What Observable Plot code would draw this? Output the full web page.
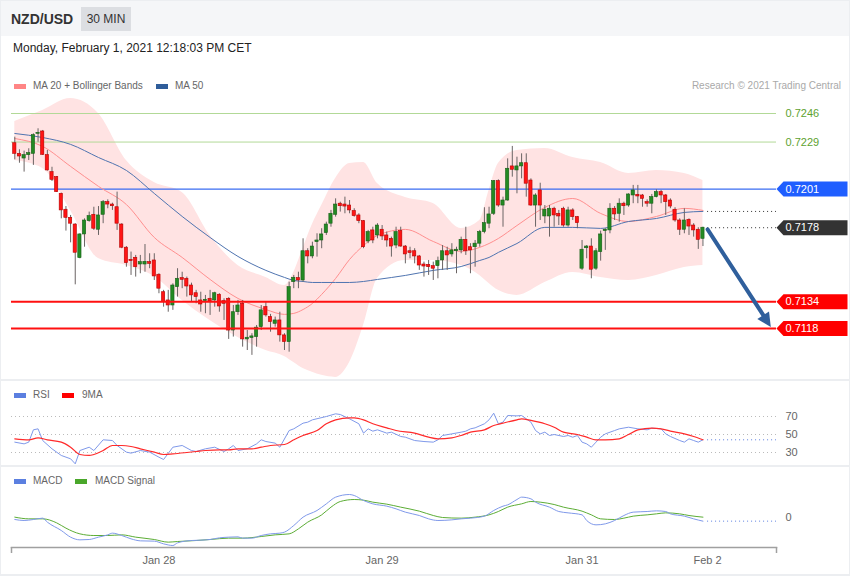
<!DOCTYPE html>
<html><head><meta charset="utf-8">
<script src="https://cdn.jsdelivr.net/npm/d3@7"></script>
<script src="https://cdn.jsdelivr.net/npm/@observablehq/plot@0.6"></script>
<style>
html,body{margin:0;padding:0;}
body{width:850px;height:576px;position:relative;overflow:hidden;background:#eceef1;font-family:"Liberation Sans",Arial,Helvetica,sans-serif;}
.abs{position:absolute;}
#hdr{left:1px;top:1px;width:848px;height:35px;background:#f5f6f8;}
#pMain{left:1px;top:36px;width:848px;height:343px;background:#fff;}
#pRsi{left:1px;top:381px;width:848px;height:84px;background:#fff;}
#pMacd{left:1px;top:467px;width:848px;height:107px;background:#fff;}
#pair{left:11px;top:10px;font-size:14px;font-weight:bold;color:#333;line-height:18px;}
#tf{left:81px;top:7px;width:50px;height:24px;line-height:24px;text-align:center;font-size:12px;color:#333;background:#dcdee2;}
#date{left:13px;top:41px;font-size:12px;color:#222;line-height:14px;}
.lg{font-size:10px;color:#666;line-height:12px;white-space:nowrap;}
.sw{width:12px;height:5px;}
#credit{right:9px;top:80px;font-size:10px;color:#a9a9a9;line-height:12px;}
.plotbox{left:0;width:850px;}
</style>
</head><body>
<div class="abs" id="hdr"></div>
<div class="abs" id="pMain"></div>
<div class="abs" id="pRsi"></div>
<div class="abs" id="pMacd"></div>
<div class="abs" id="pair">NZD/USD</div>
<div class="abs" id="tf">30 MIN</div>
<div class="abs" id="date">Monday, February 1, 2021 12:18:03 PM CET</div>

<div class="abs sw" style="left:14px;top:84px;background:#ff8585"></div>
<div class="abs lg" style="left:33px;top:80px">MA 20 + Bollinger Bands</div>
<div class="abs sw" style="left:156px;top:84px;background:#2f5d9a"></div>
<div class="abs lg" style="left:175px;top:80px">MA 50</div>
<div class="abs" id="credit">Research © 2021 Trading Central</div>

<div class="abs sw" style="left:14px;top:393px;background:#5b7fe0"></div>
<div class="abs lg" style="left:33px;top:389px">RSI</div>
<div class="abs sw" style="left:62px;top:393px;background:#ff0000"></div>
<div class="abs lg" style="left:82px;top:389px">9MA</div>

<div class="abs sw" style="left:14px;top:479px;background:#5b7fe0"></div>
<div class="abs lg" style="left:33px;top:475px">MACD</div>
<div class="abs sw" style="left:75px;top:479px;background:#4aa72a"></div>
<div class="abs lg" style="left:95px;top:475px">MACD Signal</div>

<div class="abs plotbox" id="mainPlot" style="top:90px"></div>
<div class="abs plotbox" id="rsiPlot" style="top:381px"></div>
<div class="abs plotbox" id="macdPlot" style="top:466px"></div>

<script>
// ---------- candles (30-minute bars, oldest first) ----------
const opens = [0.72283,0.72220,0.72192,0.72212,0.72220,0.72339,0.72353,0.72212,0.72111,0.72081,
0.71982,0.71887,0.71839,0.71799,0.71599,0.71740,0.71819,0.71857,0.71768,0.71857,
0.71932,0.71918,0.71902,0.71799,0.71661,0.71589,0.71601,0.71561,0.71561,0.71575,
0.71585,0.71500,0.71396,0.71347,0.71317,0.71426,0.71480,0.71476,0.71436,0.71390,
0.71347,0.71343,0.71357,0.71347,0.71381,0.71343,0.71357,0.71168,0.71277,0.71327,
0.71115,0.71123,0.71129,0.71188,0.71307,0.71248,0.71208,0.71228,0.71139,0.71099,
0.71456,0.71480,0.71466,0.71640,0.71609,0.71694,0.71704,0.71748,0.71804,0.71857,
0.71923,0.71918,0.71912,0.71879,0.71853,0.71819,0.71698,0.71764,0.71734,0.71768,
0.71734,0.71714,0.71674,0.71760,0.71668,0.71640,0.71640,0.71609,0.71561,0.71559,
0.71551,0.71551,0.71585,0.71640,0.71621,0.71640,0.71645,0.71708,0.71664,0.71664,
0.71685,0.71754,0.71804,0.71863,0.72057,0.71912,0.71942,0.72145,0.72121,0.72145,
0.72164,0.72061,0.71912,0.72002,0.71847,0.71847,0.71893,0.71863,0.71893,0.71793,
0.71883,0.71843,0.71536,0.71658,0.71668,0.71536,0.71635,0.71760,0.71764,0.71893,
0.71863,0.71923,0.71912,0.71972,0.71976,0.71972,0.71932,0.71923,0.71962,0.71992,
0.71972,0.71942,0.71887,0.71823,0.71768,0.71827,0.71793,0.71768,0.71714];
const highs = [0.72319,0.72244,0.72236,0.72250,0.72339,0.72369,0.72359,0.72240,0.72140,0.72085,
0.71986,0.71906,0.71853,0.71804,0.71744,0.71833,0.71873,0.71902,0.71906,0.71942,
0.71946,0.71926,0.71992,0.71804,0.71668,0.71635,0.71615,0.71615,0.71680,0.71625,
0.71625,0.71506,0.71407,0.71407,0.71446,0.71536,0.71515,0.71486,0.71450,0.71407,
0.71396,0.71377,0.71407,0.71396,0.71387,0.71357,0.71363,0.71317,0.71347,0.71347,
0.71168,0.71149,0.71198,0.71317,0.71337,0.71264,0.71248,0.71277,0.71149,0.71456,
0.71496,0.71515,0.71714,0.71655,0.71694,0.71744,0.71774,0.71813,0.71883,0.71952,
0.71932,0.71962,0.71942,0.71893,0.71863,0.71823,0.71764,0.71783,0.71804,0.71793,
0.71754,0.71724,0.71783,0.71783,0.71674,0.71664,0.71655,0.71615,0.71575,0.71585,
0.71575,0.71605,0.71674,0.71664,0.71685,0.71664,0.71724,0.71783,0.71685,0.71704,
0.71764,0.71899,0.71902,0.72061,0.72065,0.71962,0.72190,0.72264,0.72200,0.72220,
0.72220,0.72071,0.71982,0.72045,0.71912,0.71912,0.71902,0.71883,0.71902,0.71902,
0.71893,0.71847,0.71704,0.71674,0.71714,0.71655,0.71760,0.71774,0.71923,0.71906,
0.71952,0.71932,0.71982,0.72032,0.72032,0.71978,0.71946,0.71978,0.72006,0.72002,
0.71978,0.71952,0.71899,0.71833,0.71893,0.71833,0.71804,0.71780,0.71783];
const lows = [0.72184,0.72164,0.72111,0.72180,0.72151,0.72289,0.72210,0.72117,0.72055,0.71990,
0.71833,0.71760,0.71690,0.71440,0.71595,0.71664,0.71813,0.71764,0.71734,0.71804,
0.71893,0.71883,0.71764,0.71655,0.71545,0.71496,0.71486,0.71506,0.71515,0.71536,
0.71466,0.71387,0.71307,0.71277,0.71288,0.71367,0.71417,0.71367,0.71337,0.71327,
0.71277,0.71268,0.71258,0.71307,0.71277,0.71228,0.71115,0.71129,0.71258,0.71069,
0.71049,0.71020,0.71069,0.71168,0.71248,0.71158,0.71188,0.71099,0.71049,0.71039,
0.71417,0.71417,0.71456,0.71565,0.71595,0.71605,0.71655,0.71734,0.71783,0.71843,
0.71873,0.71863,0.71863,0.71843,0.71804,0.71655,0.71685,0.71685,0.71714,0.71704,
0.71664,0.71605,0.71655,0.71664,0.71565,0.71595,0.71565,0.71526,0.71486,0.71496,
0.71466,0.71476,0.71526,0.71526,0.71605,0.71506,0.71625,0.71615,0.71506,0.71545,
0.71664,0.71744,0.71774,0.71853,0.71902,0.71783,0.71938,0.72081,0.71982,0.72071,
0.71962,0.71908,0.71783,0.71823,0.71804,0.71724,0.71783,0.71793,0.71783,0.71783,
0.71823,0.71774,0.71526,0.71595,0.71476,0.71526,0.71581,0.71645,0.71744,0.71823,
0.71813,0.71853,0.71902,0.71923,0.71923,0.71902,0.71902,0.71863,0.71958,0.71923,
0.71853,0.71893,0.71813,0.71734,0.71744,0.71734,0.71724,0.71651,0.71668];
const closes = [0.72220,0.72204,0.72212,0.72224,0.72331,0.72345,0.72214,0.72121,0.72065,0.71992,
0.71883,0.71839,0.71804,0.71631,0.71740,0.71823,0.71849,0.71774,0.71853,0.71932,
0.71918,0.71908,0.71804,0.71661,0.71569,0.71581,0.71545,0.71575,0.71577,0.71565,
0.71490,0.71417,0.71337,0.71317,0.71436,0.71476,0.71470,0.71430,0.71377,0.71367,
0.71323,0.71351,0.71341,0.71390,0.71311,0.71327,0.71168,0.71277,0.71317,0.71115,
0.71125,0.71133,0.71185,0.71288,0.71258,0.71218,0.71228,0.71139,0.71099,0.71426,
0.71482,0.71466,0.71640,0.71609,0.71668,0.71704,0.71740,0.71799,0.71863,0.71918,
0.71908,0.71906,0.71883,0.71849,0.71819,0.71664,0.71754,0.71704,0.71793,0.71728,
0.71704,0.71668,0.71754,0.71668,0.71621,0.71629,0.71609,0.71555,0.71549,0.71545,
0.71536,0.71581,0.71640,0.71615,0.71645,0.71649,0.71708,0.71640,0.71645,0.71685,
0.71754,0.71807,0.71859,0.72057,0.71912,0.71942,0.72131,0.72125,0.72145,0.72164,
0.72042,0.71912,0.71972,0.71912,0.71887,0.71893,0.71853,0.71847,0.71793,0.71883,
0.71843,0.71807,0.71649,0.71668,0.71530,0.71640,0.71740,0.71768,0.71893,0.71859,
0.71923,0.71908,0.71978,0.72002,0.71966,0.71952,0.71923,0.71962,0.71992,0.71972,
0.71932,0.71906,0.71823,0.71768,0.71823,0.71787,0.71764,0.71708,0.71780];

// ---------- Bollinger bands (20), MA 20, MA 50 read at bar numbers ----------
const bandBars = [0,6,12,18,24,30,36,42,48,54,58,60,62,64,66,69,72,75,78,84,90,96,100,102,104,108,114,120,126,132,138,144,148];
const bbUpper = [0.72412,0.72478,0.72549,0.72460,0.72180,0.72049,0.71990,0.71734,0.71555,0.71484,0.71436,0.71514,0.71657,0.71799,0.71912,0.72073,0.72162,0.72168,0.72043,0.71960,0.71924,0.71776,0.71823,0.72002,0.72162,0.72240,0.72252,0.72198,0.72168,0.72103,0.72121,0.72103,0.72061];
const bbLower = [0.72180,0.72133,0.71883,0.71597,0.71555,0.71490,0.71347,0.71228,0.71127,0.71049,0.71014,0.70978,0.70942,0.70919,0.70901,0.70889,0.70978,0.71198,0.71478,0.71585,0.71585,0.71555,0.71496,0.71448,0.71407,0.71377,0.71454,0.71514,0.71484,0.71466,0.71496,0.71543,0.71555];
const ma20 = [0.72311,0.72264,0.72145,0.72026,0.71918,0.71722,0.71603,0.71472,0.71359,0.71293,0.71264,0.71270,0.71293,0.71329,0.71383,0.71478,0.71591,0.71674,0.71734,0.71770,0.71698,0.71639,0.71663,0.71686,0.71716,0.71793,0.71901,0.71954,0.71865,0.71817,0.71847,0.71895,0.71883];
const ma50 = [0.72341,0.72317,0.72276,0.72198,0.72121,0.71984,0.71847,0.71722,0.71609,0.71526,0.71484,0.71466,0.71460,0.71454,0.71454,0.71454,0.71454,0.71460,0.71472,0.71496,0.71526,0.71549,0.71585,0.71603,0.71633,0.71686,0.71782,0.71782,0.71776,0.71817,0.71835,0.71871,0.71877];

// ---------- key levels ----------
const resistLevels = [0.7246, 0.7229];
const pivotLevel = [0.7201];
const lastPrice = [0.7178];
const supportLevels = [0.7134, 0.7118];
const arrowFrom = [149, 0.7177];
const arrowTo = [162.7, 0.71186];

// ---------- RSI and its 9-period MA ----------
const rsiBars = [0,2,3,4,5,6,8,10,12,13,14,16,17,19,21,22,24,25,27,29,31,32,34,36,38,39,41,43,45,46,47,48,50,52,53,54,56,57,59,60,62,63,64,67,69,70,72,74,75,76,77,78,80,81,83,84,86,88,90,91,92,94,96,97,98,99,101,102,103,104,105,106,108,109,111,112,113,114,115,116,118,119,120,121,122,123,124,125,126,127,129,130,132,134,136,137,139,140,141,143,144,145,146,147,148];
const rsiValues = [41.5,39.6,41.5,55.2,56.3,43.3,34.1,26.7,23.0,17.4,32.2,35.9,32.2,44.1,43.3,37.8,30.4,29.3,32.2,30.4,24.8,22.2,35.9,37.8,32.2,31.1,34.1,35.9,31.1,34.1,37.8,32.2,34.1,39.6,44.1,42.2,40.4,35.9,54.4,56.3,62.6,63.7,66.3,70.0,73.0,72.2,67.4,61.9,51.5,56.3,53.7,55.2,51.5,52.6,47.8,47.0,43.3,42.2,41.5,44.1,48.9,50.7,52.6,53.7,56.3,57.4,61.9,66.3,73.7,61.9,63.7,71.1,70.7,71.1,63.7,54.4,50.7,52.6,48.9,50.0,47.8,48.9,47.0,48.9,41.5,39.6,35.9,41.5,47.0,50.7,54.4,56.3,58.1,56.3,55.2,57.0,56.3,50.7,47.8,43.3,41.5,45.2,43.3,41.5,44.1];
const rsiMaBars = [0,3,5,7,10,12,14,16,17,19,21,23,25,27,30,32,34,37,39,41,44,46,48,51,53,55,58,60,62,65,67,69,72,73,75,77,80,82,86,89,91,94,96,98,101,103,105,108,109,111,114,116,118,121,123,125,127,130,132,134,137,139,141,144,146,148];
const rsiMaValues = [45.2,44.1,46.3,44.1,41.5,35.9,27.8,26.7,27.8,32.2,37.8,37.8,36.7,34.1,30.4,27.8,28.5,30.0,31.1,32.2,33.0,33.0,34.1,34.1,35.9,37.8,38.9,44.1,48.9,54.4,61.9,66.3,68.5,68.5,66.3,61.9,57.4,54.4,51.5,47.0,45.2,46.3,48.9,52.6,55.2,60.0,62.6,66.3,67.4,65.6,61.9,58.1,52.6,50.0,47.0,44.1,44.1,45.2,50.0,55.2,57.0,56.3,53.7,50.7,47.8,44.1];
const rsiTicks = [70, 50, 30];

// ---------- MACD and signal ----------
const macdBars = [0,2,4,6,7,10,12,14,16,18,20,21,23,25,27,30,32,34,35,38,40,42,44,46,48,49,51,53,55,57,58,60,62,65,67,69,72,73,75,77,80,82,84,87,89,91,94,96,98,101,103,105,106,108,109,111,112,115,117,119,122,123,125,127,129,131,133,136,138,140,141,144,146,148];
const macdValues = [-4.0e-5,-6.0e-5,-4.0e-5,-1.3e-5,-9.3e-5,-26e-5,-39.3e-5,-44.7e-5,-44e-5,-39.3e-5,-34.7e-5,-31.3e-5,-36e-5,-42.7e-5,-46.7e-5,-47.3e-5,-52.7e-5,-56e-5,-50.7e-5,-46e-5,-45.3e-5,-44e-5,-40.7e-5,-39.3e-5,-38.7e-5,-41.3e-5,-41.3e-5,-36e-5,-32.7e-5,-31.3e-5,-29.3e-5,-16e-5,0.7e-5,14e-5,27.3e-5,40.7e-5,46e-5,44e-5,34e-5,27.3e-5,22.7e-5,17.3e-5,10.7e-5,4e-5,-2.7e-5,-6e-5,-4.7e-5,-2.7e-5,-1.3e-5,2.7e-5,14e-5,22.7e-5,25.3e-5,36e-5,40.7e-5,37.3e-5,30.7e-5,20.7e-5,12e-5,9.3e-5,5.3e-5,-6e-5,-14.7e-5,-12.7e-5,-6e-5,4e-5,10.7e-5,12e-5,13.3e-5,12e-5,7.3e-5,2.7e-5,-2.7e-5,-7.3e-5];
const signalBars = [0,3,6,9,11,14,17,20,23,26,30,33,35,39,42,46,49,53,56,59,61,63,66,68,70,73,75,77,80,83,87,90,92,96,99,102,104,106,109,111,113,116,118,122,124,126,129,131,133,136,138,140,143,145,148];
const signalValues = [0.7e-5,-2.7e-5,-2.7e-5,-10.7e-5,-21.3e-5,-32.7e-5,-36e-5,-36e-5,-34.7e-5,-39.3e-5,-44e-5,-49.3e-5,-48e-5,-46e-5,-44e-5,-41.3e-5,-41.3e-5,-38e-5,-34.7e-5,-32.7e-5,-22.7e-5,-9.3e-5,5.3e-5,20.7e-5,32e-5,36e-5,34.7e-5,30.7e-5,26.7e-5,20.7e-5,12.7e-5,4e-5,0,-1.3e-5,0.7e-5,5.3e-5,12e-5,20.7e-5,27.3e-5,32e-5,30.7e-5,26e-5,20.7e-5,12.7e-5,5.3e-5,-2.7e-5,-4e-5,-1.3e-5,2.7e-5,5.3e-5,7.3e-5,9.3e-5,7.3e-5,4e-5,0.7e-5];

// ---------- date axis ----------
const dateTickBars = [31, 79, 122, 149];
const dateTickLabels = ["Jan 28", "Jan 29", "Jan 31", "Feb 2"];

// ===================================================================
const X_DOMAIN = [-0.71, 163.82];
const X_RANGE = [11, 776];
const FONT = '"Liberation Sans", Arial, Helvetica, sans-serif';
const baseStyle = {background: "transparent", fontFamily: FONT, fontSize: "11px", overflow: "visible"};
const lastBar = closes.length - 1;

const candles = opens.map((o, i) => ({i, open: o, high: highs[i], low: lows[i], close: closes[i]}));
const ups = candles.filter(d => d.close >= d.open);
const downs = candles.filter(d => d.close < d.open);
const band = bandBars.map((b, k) => ({i: b, upper: bbUpper[k], lower: bbLower[k], ma20: ma20[k], ma50: ma50[k]}));
const lastMa50 = [ma50[ma50.length - 1]];
const arrowData = [{x1: arrowFrom[0], y1: arrowFrom[1], x2: arrowTo[0], y2: arrowTo[1]}];

const tagShape = {draw(ctx) {
  ctx.moveTo(0, 0); ctx.lineTo(7, -7.5); ctx.lineTo(71, -7.5); ctx.lineTo(71, 7.5); ctx.lineTo(7, 7.5); ctx.closePath();
}};

const W = 850;
const mainPlot = Plot.plot({
  width: W, height: 288, marginLeft: 11, marginRight: 74, marginTop: 0, marginBottom: 0,
  style: baseStyle,
  x: {domain: X_DOMAIN, range: X_RANGE, axis: null, label: null},
  y: {domain: [0.7118, 0.7246], range: [238, 23], axis: null, label: null},
  marks: [
    Plot.areaY(band, {x: "i", y1: "lower", y2: "upper", fill: "#ffe3e3", curve: "monotone-x"}),
    Plot.ruleY(resistLevels, {stroke: "#b2d997", strokeWidth: 1}),
    Plot.ruleY(pivotLevel, {stroke: "#3a6df2", strokeWidth: 1.2}),
    Plot.line(band, {x: "i", y: "ma20", stroke: "#ff8f8f", strokeWidth: 1, curve: "monotone-x"}),
    Plot.line(band, {x: "i", y: "ma50", stroke: "#4f74b0", strokeWidth: 1, curve: "monotone-x"}),
    Plot.ruleY(lastMa50, {x1: lastBar + 1, x2: X_DOMAIN[1], stroke: "#333", strokeDasharray: "1,3"}),
    Plot.ruleY(lastPrice, {x1: lastBar + 1, x2: X_DOMAIN[1], stroke: "#333", strokeDasharray: "1,3"}),
    Plot.ruleX(candles, {x: "i", y1: "low", y2: "high", stroke: "#6a6464", strokeWidth: 1}),
    Plot.rect(ups, {x1: d => d.i - 0.35, x2: d => d.i + 0.35, y1: "open", y2: "close", fill: "#238a23", stroke: "#175e17", strokeWidth: 0.6}),
    Plot.rect(downs, {x1: d => d.i - 0.35, x2: d => d.i + 0.35, y1: "open", y2: "close", fill: "#ff1414", stroke: "#b50000", strokeWidth: 0.6}),
    Plot.ruleY(supportLevels, {stroke: "#ff1010", strokeWidth: 2}),
    Plot.arrow(arrowData, {x1: "x1", y1: "y1", x2: "x2", y2: "y2", stroke: "#2f5f9c", strokeWidth: 4, headLength: 0, insetEnd: 9}),
    Plot.text(resistLevels, {y: d => d, text: d => d.toFixed(4), frameAnchor: "right", dx: 9, textAnchor: "start", fill: "#5ea22f", fontSize: 11}),
    Plot.dot(pivotLevel, {y: d => d, frameAnchor: "right", symbol: tagShape, fill: "#1f5eff", stroke: null}),
    Plot.dot(lastPrice, {y: d => d, frameAnchor: "right", symbol: tagShape, fill: "#333333", stroke: null}),
    Plot.dot(supportLevels, {y: d => d, frameAnchor: "right", symbol: tagShape, fill: "#ff0000", stroke: null}),
    Plot.text([...pivotLevel, ...lastPrice, ...supportLevels], {y: d => d, text: d => d.toFixed(4), frameAnchor: "right", dx: 9, textAnchor: "start", fill: "#fff", fontSize: 11})
  ]
});
document.getElementById("mainPlot").appendChild(mainPlot);
// filled arrow head placed through the plot's own scales
{
  const sx = mainPlot.scale("x"), sy = mainPlot.scale("y");
  const x0 = sx.apply(arrowFrom[0]), y0 = sy.apply(arrowFrom[1]);
  const x1 = sx.apply(arrowTo[0]), y1 = sy.apply(arrowTo[1]);
  const L = Math.hypot(x1 - x0, y1 - y0), ux = (x1 - x0) / L, uy = (y1 - y0) / L;
  const bx = x1 - ux * 14, by = y1 - uy * 14, nx = -uy, ny = ux;
  d3.select(mainPlot).append("polygon")
    .attr("points", [[x1, y1], [bx + nx * 7, by + ny * 7], [bx - nx * 7, by - ny * 7]].map(p => p.join(",")).join(" "))
    .attr("fill", "#2f5f9c");
}

const rsi = rsiBars.map((b, k) => ({i: b, v: rsiValues[k]}));
const rsiMa = rsiMaBars.map((b, k) => ({i: b, v: rsiMaValues[k]}));
const rsiPlot = Plot.plot({
  width: W, height: 84, marginLeft: 11, marginRight: 74, marginTop: 0, marginBottom: 0,
  style: baseStyle,
  x: {domain: X_DOMAIN, range: X_RANGE, axis: null, label: null},
  y: {domain: [30, 70], range: [71, 35], axis: null, label: null},
  marks: [
    Plot.ruleY(rsiTicks, {stroke: "#bbbbbb", strokeDasharray: "1,3"}),
    Plot.text(rsiTicks, {y: d => d, text: d => String(d), frameAnchor: "right", dx: 9, textAnchor: "start", fill: "#666", fontSize: 11}),
    Plot.line(rsi, {x: "i", y: "v", stroke: "#7f99ea", strokeWidth: 1}),
    Plot.line(rsiMa, {x: "i", y: "v", stroke: "#ff2a2a", strokeWidth: 1.2, curve: "monotone-x"}),
    Plot.ruleY([rsiValues[rsiValues.length - 1]], {x1: lastBar + 1, x2: X_DOMAIN[1], stroke: "#5b7fe0", strokeDasharray: "1,3"})
  ]
});
document.getElementById("rsiPlot").appendChild(rsiPlot);

const macd = macdBars.map((b, k) => ({i: b, v: macdValues[k]}));
const signal = signalBars.map((b, k) => ({i: b, v: signalValues[k]}));
const macdPlot = Plot.plot({
  width: W, height: 108, marginLeft: 11, marginRight: 74, marginTop: 0, marginBottom: 27,
  style: baseStyle,
  x: {domain: X_DOMAIN, range: X_RANGE, label: null},
  y: {domain: [-0.0005, 0.0005], range: [76, 26], axis: null, label: null},
  marks: [
    Plot.frame({anchor: "bottom", stroke: "#a0a0a0", strokeWidth: 1.5}),
    Plot.axisX({ticks: X_DOMAIN, tickSize: 6, tickFormat: () => "", stroke: "#a0a0a0", strokeWidth: 1.5}),
    Plot.axisX({ticks: dateTickBars, tickSize: 0, tickPadding: 9, tickFormat: d => dateTickLabels[dateTickBars.indexOf(d)], fill: "#666", fontSize: 11}),
    Plot.text([0], {y: d => d, text: d => String(d), frameAnchor: "right", dx: 9, textAnchor: "start", fill: "#666", fontSize: 11}),
    Plot.line(signal, {x: "i", y: "v", stroke: "#5cad35", strokeWidth: 1, curve: "monotone-x"}),
    Plot.line(macd, {x: "i", y: "v", stroke: "#7f99ea", strokeWidth: 1, curve: "monotone-x"}),
    Plot.ruleY([macdValues[macdValues.length - 1]], {x1: lastBar + 1, x2: X_DOMAIN[1], stroke: "#5b7fe0", strokeDasharray: "1,3"})
  ]
});
document.getElementById("macdPlot").appendChild(macdPlot);
</script>
</body></html>
